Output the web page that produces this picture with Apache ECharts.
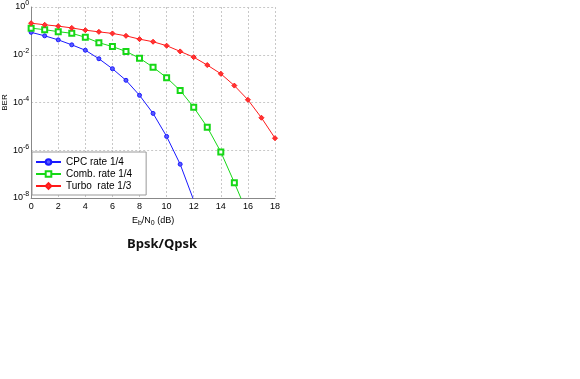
<!DOCTYPE html>
<html>
<head>
<meta charset="utf-8">
<script src="https://cdn.jsdelivr.net/npm/echarts@6/dist/echarts.min.js"></script>
<style>
  html, body { margin: 0; padding: 0; background: #fff; }
  #chart { width: 580px; height: 379px; }
</style>
</head>
<body>
<div id="chart"></div>
<script>
// Eb/N0 (dB) points for each curve
var ebnoCpc = [0, 1, 2, 3, 4, 5, 6, 7, 8, 9, 10, 11, 12];
var ebnoComb = [0, 1, 2, 3, 4, 5, 6, 7, 8, 9, 10, 11, 12, 13, 14, 15, 16];
var ebnoTurbo = [0, 1, 2, 3, 4, 5, 6, 7, 8, 9, 10, 11, 12, 13, 14, 15, 16, 17, 18];

// BER values
var berCpc = [0.087, 0.062, 0.042, 0.026, 0.0155, 0.0068, 0.0026, 0.00085, 0.0002, 3.5e-5, 3.8e-6, 2.6e-7, 8e-9];
var berComb = [0.13, 0.112, 0.093, 0.079, 0.054, 0.032, 0.022, 0.0138, 0.0072, 0.003, 0.0011, 3.2e-4, 6.3e-5, 9.3e-6, 8.5e-7, 4.4e-8, 2e-9];
var berTurbo = [0.21, 0.18, 0.158, 0.133, 0.107, 0.091, 0.078, 0.062, 0.045, 0.035, 0.024, 0.0138, 0.0079, 0.0037, 0.0016, 5.1e-4, 1.3e-4, 2.3e-5, 3.2e-6];

var seriesNames = ["CPC rate 1/4", "Comb. rate 1/4", "Turbo  rate 1/3"];

function pairs(xs, ys) {
  return xs.map(function (x, i) { return [x, ys[i]]; });
}

var myChart = echarts.init(document.getElementById("chart"));
myChart.setOption({
  animation: false,
  textStyle: { fontFamily: "Liberation Sans, Arial, sans-serif" },
  title: {
    text: "Bpsk/Qpsk",
    left: 157,
    top: 233,
    textAlign: "center",
    textStyle: { fontFamily: "Open Sans", fontSize: 13, fontWeight: "bold", color: "#111" }
  },
  grid: { left: 30, top: 6, width: 245, height: 192, containLabel: false },
  legend: {
    orient: "vertical",
    left: 32,
    top: 152,
    itemWidth: 25,
    itemHeight: 7,
    itemGap: 2,
    padding: [5, 14, 4, 3],
    backgroundColor: "#fff",
    borderColor: "#999",
    borderWidth: 1,
    textStyle: { fontSize: 10, lineHeight: 10, color: "#000" },
    data: seriesNames
  },
  xAxis: {
    type: "value",
    min: 0,
    max: 18,
    interval: 2,
    name: "E{sub|b}/N{sub|0} (dB)",
    nameLocation: "middle",
    nameGap: 12,
    nameTextStyle: {
      fontSize: 9, color: "#000",
      rich: { sub: { fontSize: 7, verticalAlign: "bottom", padding: [5, 0, 0, 0] } }
    },
    axisLine: { show: true, lineStyle: { color: "#888" } },
    axisTick: { show: false },
    axisLabel: { fontSize: 9, color: "#000", margin: 4 },
    splitLine: { show: true, lineStyle: { color: "#c8c8c8", type: [2, 2] } }
  },
  yAxis: {
    type: "log",
    logBase: 10,
    min: 1e-8,
    max: 1,
    interval: 2,
    name: "BER",
    nameLocation: "middle",
    nameGap: 22,
    nameTextStyle: { fontSize: 8, color: "#000" },
    axisLine: { show: true, lineStyle: { color: "#888" } },
    axisTick: { show: false },
    axisLabel: {
      color: "#000",
      margin: 2,
      formatter: function (v) {
        var e = Math.round(Math.log10(v));
        return "{b|10}{sup|" + e + "}";
      },
      rich: {
        b: { fontSize: 9, color: "#000" },
        sup: { fontSize: 7, color: "#000", verticalAlign: "top", padding: [0, 0, 7, 0] }
      }
    },
    splitLine: { show: true, lineStyle: { color: "#c8c8c8", type: [2, 2] } }
  },
  series: [
    {
      name: seriesNames[0],
      type: "line",
      data: pairs(ebnoCpc, berCpc),
      symbol: "circle",
      symbolSize: 4,
      lineStyle: { color: "#1a1aff", width: 1 },
      itemStyle: { color: "#5a5aff", borderColor: "#1a1aff", borderWidth: 1 },
      clip: true
    },
    {
      name: seriesNames[1],
      type: "line",
      data: pairs(ebnoComb, berComb),
      symbol: "emptyRect",
      symbolSize: 5,
      lineStyle: { color: "#16d816", width: 1 },
      itemStyle: { color: "#16d816", borderColor: "#16d816", borderWidth: 1 },
      clip: true
    },
    {
      name: seriesNames[2],
      type: "line",
      data: pairs(ebnoTurbo, berTurbo),
      symbol: "diamond",
      symbolSize: 5,
      lineStyle: { color: "#ff1a1a", width: 1 },
      itemStyle: { color: "#ff3333", borderColor: "#ff1a1a", borderWidth: 1 },
      clip: true
    }
  ]
});
</script>
</body>
</html>
